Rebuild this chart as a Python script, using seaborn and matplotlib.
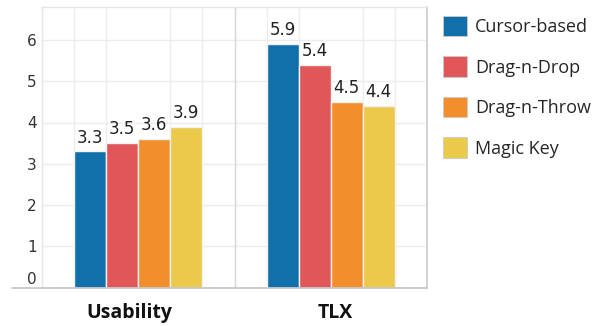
import matplotlib
matplotlib.use("Agg")
import matplotlib.pyplot as plt
from matplotlib.patches import Patch
from matplotlib.ticker import FixedLocator
from matplotlib.transforms import ScaledTranslation
import seaborn as sns
import pandas as pd
import numpy as np

# Scores per measure and interaction technique
measures = ["Usability", "TLX"]
techniques = ["Cursor-based", "Drag-n-Drop", "Drag-n-Throw", "Magic Key"]
usability = [3.3, 3.5, 3.6, 3.9]
tlx = [5.9, 5.4, 4.5, 4.4]
colors = ["#1170aa", "#e15759", "#f28e2b", "#ebc94a"]
y_ticks = [0, 1, 2, 3, 4, 5, 6]

df = pd.DataFrame({
    "measure": np.repeat(measures, len(techniques)),
    "technique": techniques * len(measures),
    "score": usability + tlx,
})

sns.set_style("white")
plt.rcParams["font.family"] = ["DejaVu Sans"]

fig = plt.figure(figsize=(6.03, 3.26), dpi=100)
W, H = 603, 326
ax = fig.add_axes([42 / W, 1 - 287.5 / H, (427 - 42) / W, (287.5 - 7) / H])

sns.barplot(data=df, x="measure", y="score", hue="technique",
            order=measures, hue_order=techniques, palette=colors,
            width=4 / 6, gap=0.0, edgecolor="#f2f2f2", linewidth=1.0,
            saturation=1, legend=False, ax=ax, zorder=3)

for cont in ax.containers:
    ax.bar_label(cont, fmt="%.1f", padding=3.5, fontsize=12, color="#222222")

ax.set_xlim(-0.5, 1.5)
ax.set_ylim(0, 6.8)
ax.set_xlabel("")
ax.set_ylabel("")

# grid: horizontal at each unit, vertical at every bar slot
ax.yaxis.set_major_locator(FixedLocator(y_ticks))
ax.xaxis.set_minor_locator(FixedLocator([-0.5 + k / 6 for k in range(13)]))
ax.grid(axis="y", which="major", color="#ececec", linewidth=1, zorder=0)
ax.grid(axis="x", which="minor", color="#ececec", linewidth=1, zorder=0)
ax.axvline(0.5, color="#d8d8d8", linewidth=1, zorder=1)
ax.set_axisbelow(True)

for side in ["top", "left"]:
    ax.spines[side].set_color("#e6e6e6")
    ax.spines[side].set_linewidth(1)
ax.spines["right"].set_color("#cfcfcf")
ax.spines["right"].set_linewidth(1.3)
ax.spines["bottom"].set_visible(False)
# baseline reaching under the y labels
ax.plot([-0.078, 1.0], [0, 0], transform=ax.transAxes, color="#c8c8c8",
        linewidth=1.3, clip_on=False, zorder=5)

ax.tick_params(axis="both", which="both", length=0)
ax.tick_params(axis="y", pad=4, labelsize=11, labelcolor="#333333")
ax.tick_params(axis="x", pad=11)
ax.set_xticks([0, 1])
ax.set_xticklabels(measures, fontsize=14, fontweight="bold",
                   family=["Open Sans", "DejaVu Sans"], color="#111111")

fig.canvas.draw()
for lab in ax.get_yticklabels():
    if lab.get_text() == "0":
        lab.set_transform(lab.get_transform() + ScaledTranslation(0, 9 / 100, fig.dpi_scale_trans))
x_shift = {"Usability": -9, "TLX": 5}
for lab in ax.get_xticklabels():
    dx = x_shift.get(lab.get_text(), 0)
    lab.set_transform(lab.get_transform() + ScaledTranslation(dx / 100, 0, fig.dpi_scale_trans))

handles = [Patch(facecolor=c, edgecolor="#cccccc", linewidth=0.6) for c in colors]
fig.legend(handles, techniques, loc="upper left",
           bbox_to_anchor=(443 / W, 1 - 16 / H), frameon=False,
           prop={"family": ["Open Sans", "DejaVu Sans"], "size": 13},
           handlelength=1.35, handleheight=1.35, handletextpad=0.42,
           labelspacing=1.12, borderaxespad=0, borderpad=0)

fig.savefig("out.png", dpi=100)
